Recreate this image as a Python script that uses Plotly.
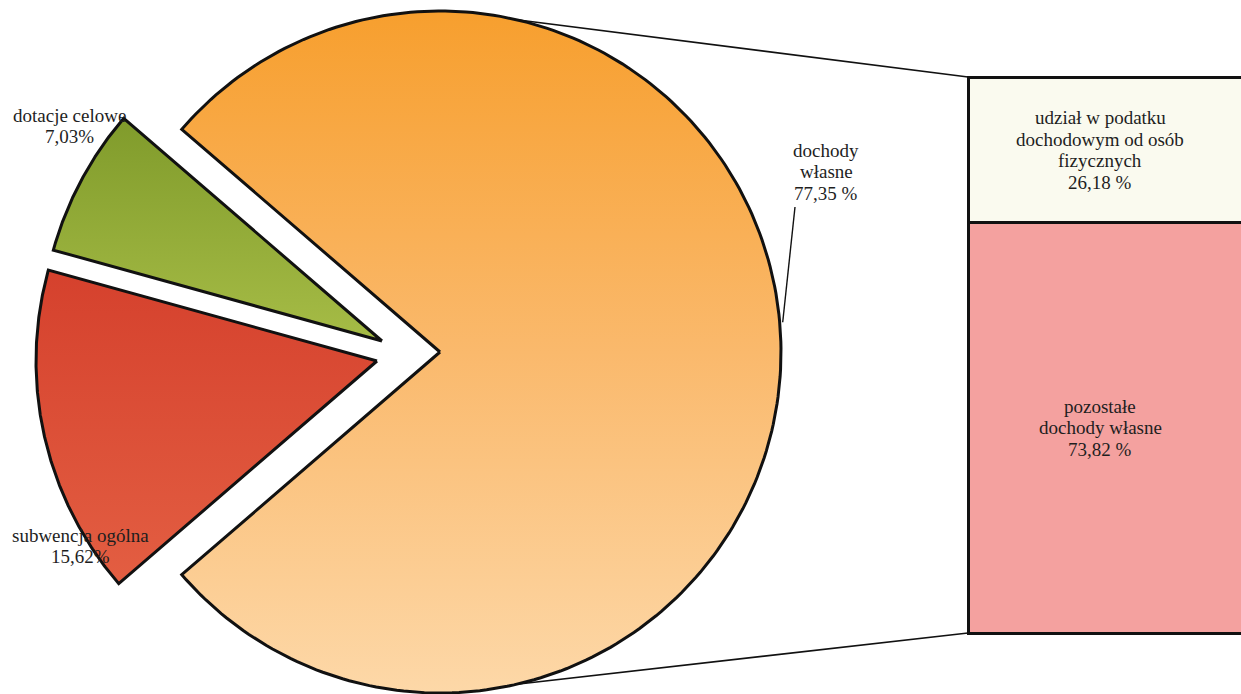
import numpy as np
import plotly.graph_objects as go

# ---------------- data ----------------
pie_categories = ["dochody własne", "subwencja ogólna", "dotacje celowe"]
pie_shares = [77.35, 15.62, 7.03]
pie_value_labels = ["77,35 %", "15,62%", "7,03%"]
pie_name_lines = [["dochody", "własne"], ["subwencja ogólna"], ["dotacje celowe"]]

bar_categories = ["pozostałe dochody własne",
                  "udział w podatku dochodowym od osób fizycznych"]
bar_name_lines = [["pozostałe", "dochody własne"],
                  ["udział w podatku", "dochodowym od osób", "fizycznych"]]
bar_shares = [73.82, 26.18]
bar_value_labels = ["73,82 %", "26,18 %"]

# ---------------- layout constants ----------------
W, H = 1241, 694
CX, CY, R = 440, 352, 341
FONT = "Liberation Serif, Times New Roman, serif"
TXT = "#1e1e1e"
FS = 19
LINE_H = 21.5
pull = {"dochody własne": (0, 0), "subwencja ogólna": (-63, 9), "dotacje celowe": (-58, -11)}
grad = {
    "dochody własne": [[0, "#F79F2E"], [0.5, "#FAB96C"], [1, "#FDD8A8"]],
    "subwencja ogólna": [[0, "#D5412D"], [1, "#E35E42"]],
    "dotacje celowe": [[0, "#809B2B"], [1, "#A6BC46"]],
}
BAR_LEFT, BAR_W = 968, 284
BAR_TOP_PX, BAR_BOT_PX = 77, 633

fig = go.Figure()

# ---------------- pie slices (angles from the shares) ----------------
deg = [s * 3.6 for s in pie_shares]
other = sum(deg[1:])
a0 = 180 - other / 2
spans = {
    "dotacje celowe": (a0, a0 + deg[2]),
    "subwencja ogólna": (a0 + deg[2], a0 + deg[2] + deg[1]),
    "dochody własne": (180 + other / 2, 180 + other / 2 + deg[0]),
}

def pt(angle, r=R, dx=0, dy=0):
    t = np.radians(angle)
    return CX + dx + r * np.cos(t), CY + dy - r * np.sin(t)

for cat in pie_categories:
    s, e = spans[cat]
    dx, dy = pull[cat]
    ang = np.linspace(s, e, 240)
    t = np.radians(ang)
    xs = np.concatenate([[CX + dx], CX + dx + R * np.cos(t), [CX + dx]])
    ys = np.concatenate([[CY + dy], CY + dy - R * np.sin(t), [CY + dy]])
    if cat == "dochody własne":
        g0, g1 = CY - R, CY + R
    else:
        g0, g1 = float(ys.min()), float(ys.max())
    fig.add_trace(go.Scatter(
        x=xs, y=ys, mode="lines", fill="toself",
        fillgradient=dict(type="vertical", colorscale=grad[cat], start=g0, stop=g1),
        line=dict(color="#111111", width=3), hoverinfo="skip", showlegend=False,
        name=cat, xaxis="x", yaxis="y"))

# ---------------- bar (stacked, own scale) ----------------
total = sum(bar_shares)
scale = (BAR_BOT_PX - BAR_TOP_PX) / total
y2_range = [(BAR_BOT_PX - H) / scale, BAR_BOT_PX / scale]
bar_colors = ["#F4A19F", "#FAFAEF"]
base = 0.0
for cat, lines, val, lab, col in zip(bar_categories, bar_name_lines, bar_shares,
                                     bar_value_labels, bar_colors):
    fig.add_trace(go.Bar(
        x=[BAR_LEFT + BAR_W / 2], y=[val], width=BAR_W, yaxis="y2", xaxis="x",
        marker=dict(color=col, line=dict(color="#111111", width=3)),
        hoverinfo="skip", showlegend=False, name=cat))
    all_lines = lines + [lab]
    n = len(all_lines)
    mid = base + val / 2
    for i, ln in enumerate(all_lines):
        fig.add_annotation(x=BAR_LEFT + BAR_W / 2 - 10, y=mid, xref="x", yref="y2", text=ln,
                           showarrow=False, yshift=((n - 1) / 2 - i) * LINE_H,
                           font=dict(family=FONT, size=FS, color=TXT))
    base += val

# ---------------- connector lines ----------------
tx, ty = pt(77)
bx, by = pt(-77)
fig.add_shape(type="line", x0=tx, y0=ty, x1=BAR_LEFT, y1=BAR_TOP_PX, xref="x", yref="y",
              line=dict(color="#111111", width=1.6))
fig.add_shape(type="line", x0=bx, y0=by, x1=BAR_LEFT, y1=BAR_BOT_PX, xref="x", yref="y",
              line=dict(color="#111111", width=1.6))
lx, ly = pt(5)
fig.add_shape(type="line", x0=lx + 3, y0=ly, x1=795, y1=207, xref="x", yref="y",
              line=dict(color="#111111", width=1.4))

# ---------------- pie labels ----------------
label_top = {"dochody własne": (826, 150), "subwencja ogólna": (80, 535), "dotacje celowe": (69, 115)}
for cat, lines, val in zip(pie_categories, pie_name_lines, pie_value_labels):
    x, y = label_top[cat]
    for i, ln in enumerate(lines + [val]):
        fig.add_annotation(x=x, y=y + i * LINE_H, xref="x", yref="y", text=ln,
                           showarrow=False, font=dict(family=FONT, size=FS, color=TXT))

fig.update_layout(
    width=W, height=H, margin=dict(l=0, r=0, t=0, b=0),
    paper_bgcolor="white", plot_bgcolor="white", barmode="stack",
    xaxis=dict(range=[0, W], visible=False, fixedrange=True),
    yaxis=dict(range=[H, 0], visible=False, fixedrange=True),
    yaxis2=dict(range=y2_range, overlaying="y", visible=False, fixedrange=True),
)

fig.write_html("out.html", config={"displayModeBar": False},
               post_script="document.body.style.margin='0';document.body.style.overflow='hidden';")
